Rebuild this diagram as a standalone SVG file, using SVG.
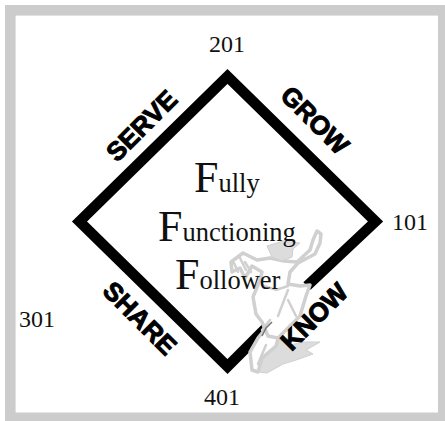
<svg xmlns="http://www.w3.org/2000/svg" width="445" height="421" viewBox="0 0 445 421">
<style>
.n{font-family:"Liberation Serif","Times New Roman",serif;font-size:24px;fill:#111}
.big{font-family:"Liberation Serif","Times New Roman",serif;font-size:44px;fill:#111}
.sm{font-size:26.500px}
.l{font-family:"Liberation Sans",Arial,sans-serif;font-weight:bold;font-size:26px;fill:#000;stroke:#000;stroke-width:1px;text-anchor:middle}
.fig{fill:#fff;stroke:#d0d0d0;stroke-width:3.500;stroke-linejoin:round}
.figf{fill:#dcdcdc;stroke:#cfcfcf;stroke-width:1}
.figl{fill:none;stroke:#d0d0d0;stroke-width:2.500;stroke-linecap:round}
</style>
<rect id="frame" x="10.3" y="10.3" width="433" height="407.500" fill="#fff" stroke="#ccc" stroke-width="10.600"/>
<g id="connectors">
<path id="diamond" d="M307 286L375.500 221.500L227.500 76.500L79.500 221.500L227.500 366.500L272 322" fill="none" stroke="#000" stroke-width="10.600" stroke-linejoin="miter"/>
</g>
<g id="figure">
<path class="figf" d="M250 352L262 336L280 340L290 345L304 342L320 342L306 350L313 354L296 360L283 364L267 373L252 371Z"/>
<path class="fig" d="M250 352L258 338L266 328L280 332L276 346L262 358L258 372L252 370Z"/>
<path class="fig" d="M317 231L321 234L320 243L315 254L298 263L290 272L288 284L300 286L310 285L306 296L300 316L290 326L278 338L268 336L262 322L256 314L253 297L260 280L262 272L252 266L245 278L240 268L232 272L231 262L243 253L257 260L270 258L284 261L297 262L310 250L313 240Z"/>
<path class="figf" d="M267 246L283 241L300 243L293 249L292 257L282 261L272 257Z"/>
<path class="figl" d="M245 262L251 272M240 258L246 270M234 263L238 272M262 285L276 290L288 286M288 290L278 316M270 320L262 330M266 345L258 364M296 316L288 300"/>
<path d="M272 322L266 328L262 336" fill="none" stroke="#777" stroke-width="1.500"/>
</g>
<g id="n201"><text class="n" x="209" y="51.500">201</text></g>
<g id="n101"><text class="n" x="392" y="229.500">101</text></g>
<g id="n301"><text class="n" x="19" y="327">301</text></g>
<g id="n401"><text class="n" x="204" y="405">401</text></g>
<g id="title">
<text class="big" x="194" y="191.500">F<tspan class="sm">ully</tspan></text>
<text class="big" x="158" y="240.500">F<tspan class="sm">unctioning</tspan></text>
<text class="big" x="175" y="289">F<tspan class="sm">ollower</tspan></text>
</g>
<g id="serve"><text class="l" transform="translate(148 132) rotate(-45)">SERVE</text></g>
<g id="grow"><text class="l" transform="translate(308.500 126.500) rotate(45)">GROW</text></g>
<g id="share"><text class="l" transform="translate(133.500 324.500) rotate(45)">SHARE</text></g>
<g id="know"><text class="l" transform="translate(320.500 323) rotate(-45)">KNOW</text></g>
</svg>
